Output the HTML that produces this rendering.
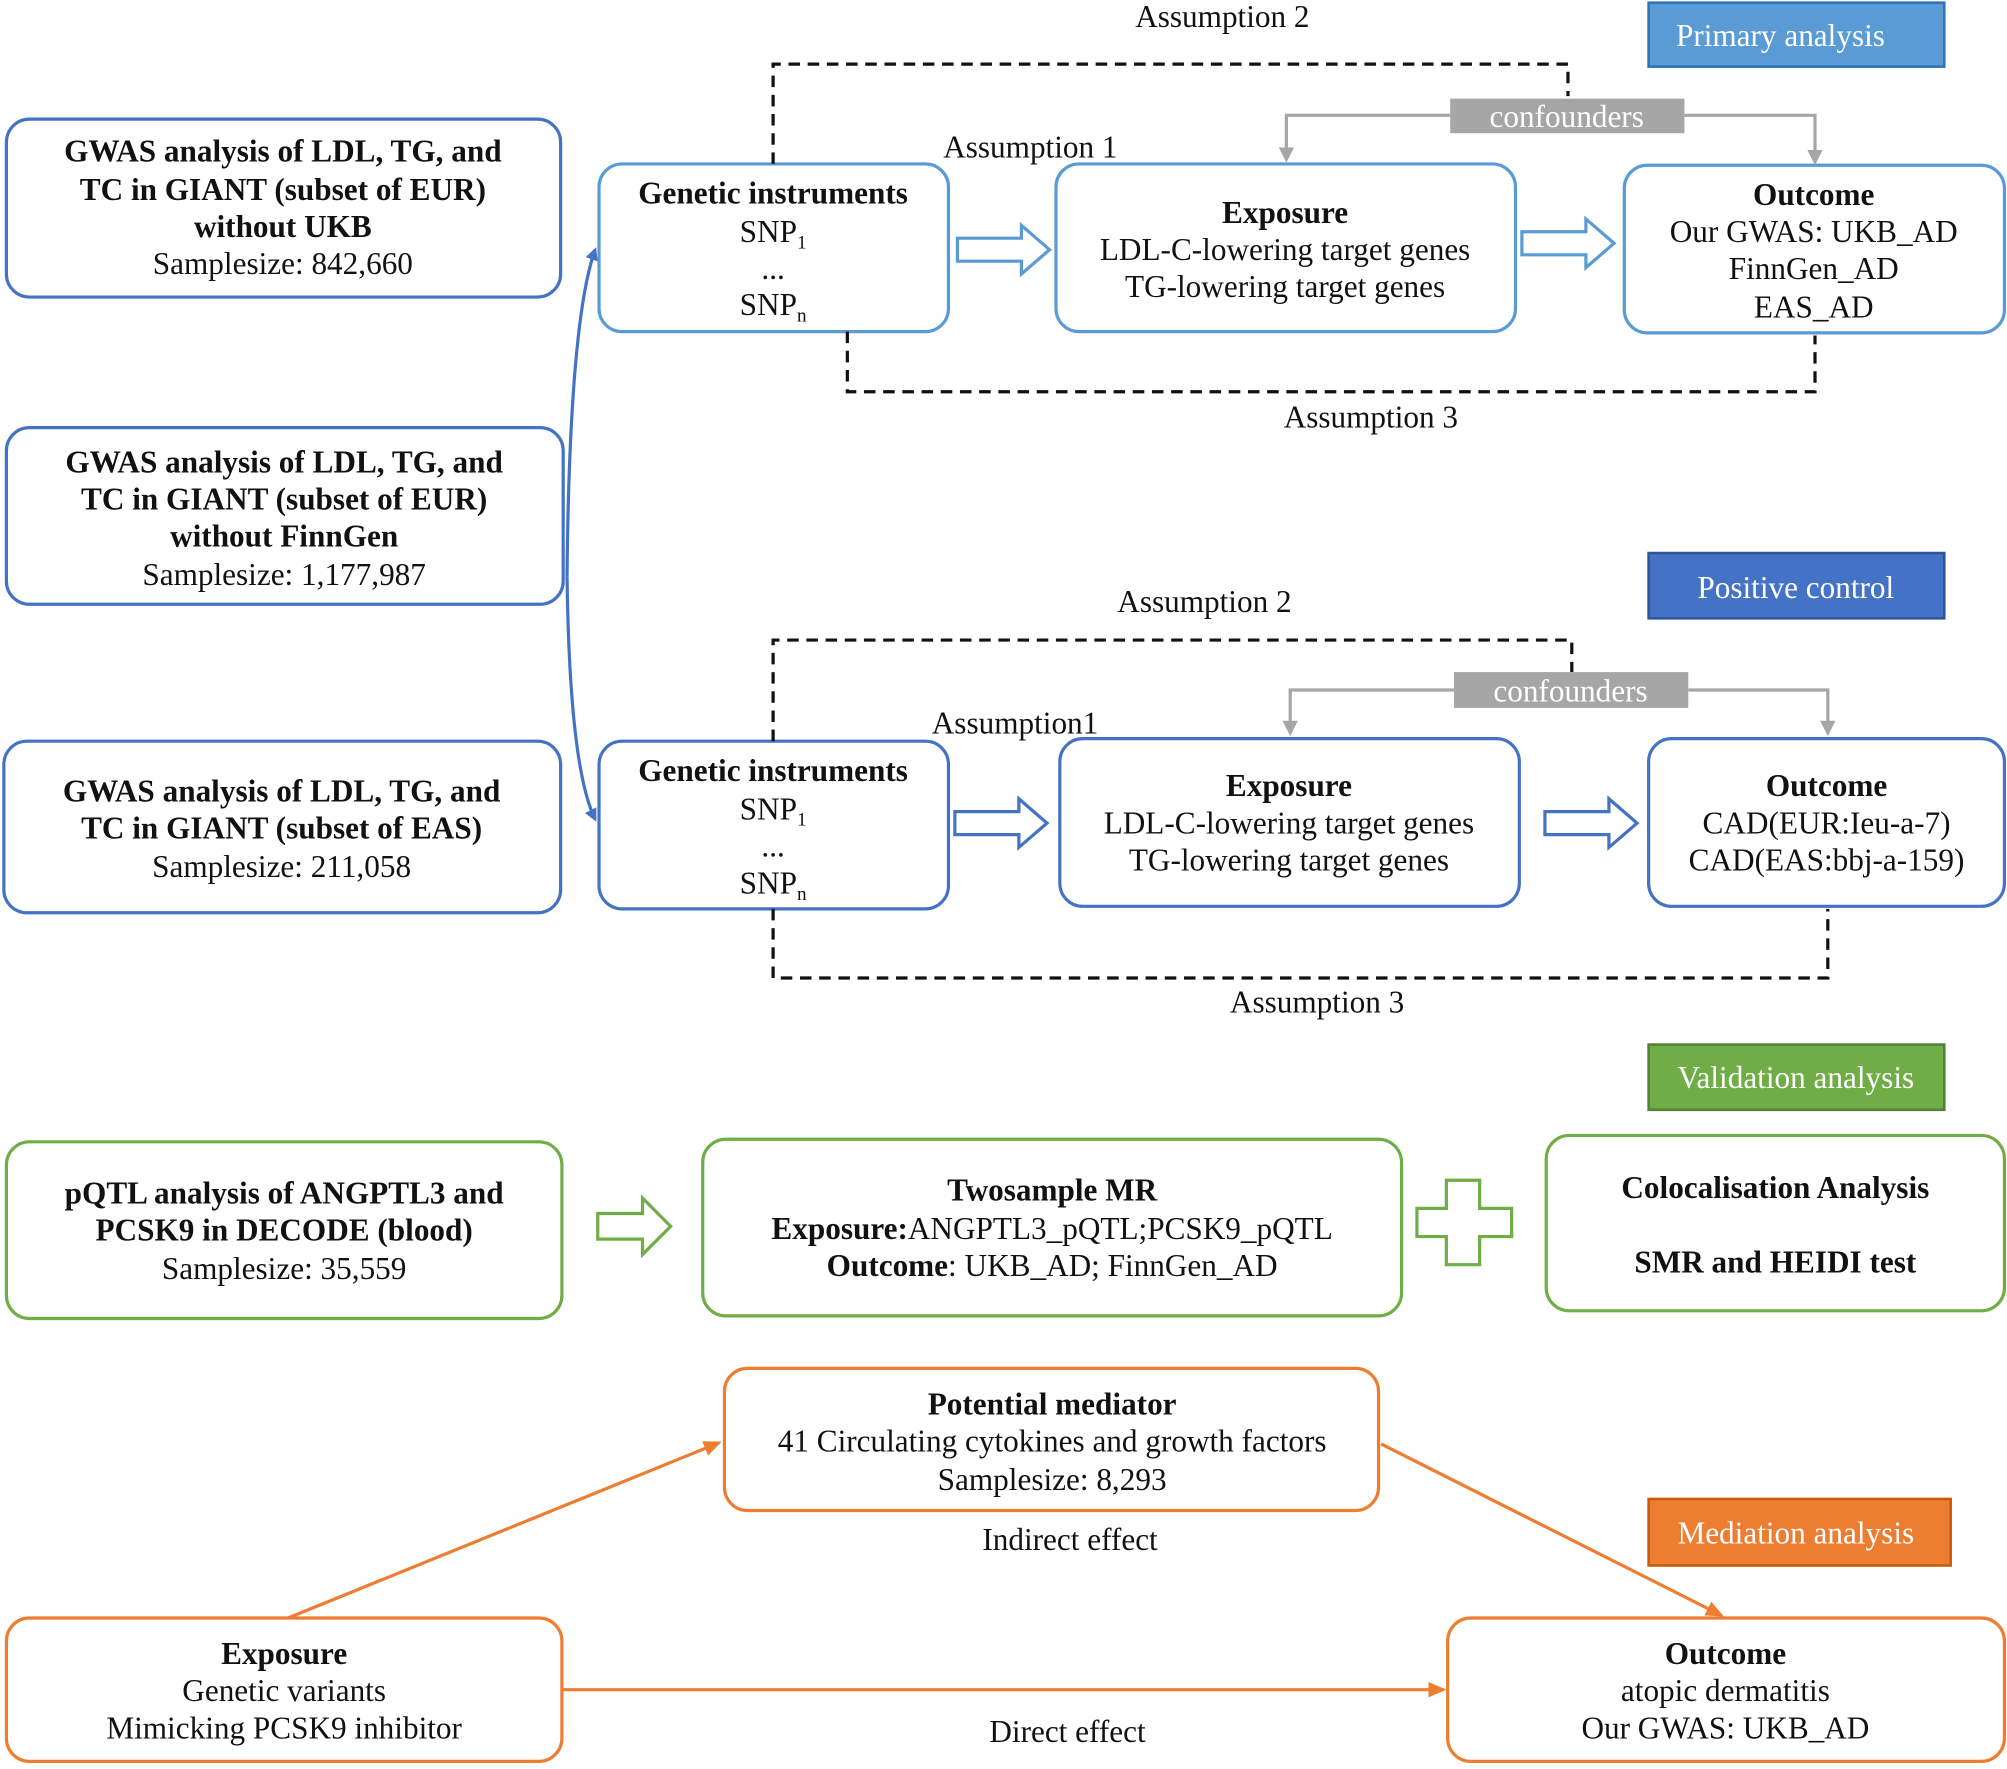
<!DOCTYPE html>
<html><head><meta charset="utf-8"><style>
html,body{margin:0;padding:0;background:#fff;}
svg text{font-family:"Liberation Serif",serif;font-size:24.4px;fill:#111;}
.b{font-weight:bold;}
.w{fill:#fff;}
</style></head><body>
<svg width="2007" height="1764" viewBox="0 0 1568 1378" xmlns="http://www.w3.org/2000/svg">
<defs>
<marker id="ab" markerWidth="10" markerHeight="10" refX="8" refY="5" orient="auto" markerUnits="userSpaceOnUse"><path d="M0,0 L10,5 L0,10 z" fill="#4472C4"/></marker>
<marker id="ag" markerWidth="12" markerHeight="14" refX="10" refY="6" orient="auto" markerUnits="userSpaceOnUse"><path d="M0,0 L12,6 L0,12 z" fill="#A6A6A6"/></marker>
<marker id="ao" markerWidth="14" markerHeight="12" refX="12" refY="6" orient="auto" markerUnits="userSpaceOnUse"><path d="M0,0 L14,6 L0,12 z" fill="#ED7D31"/></marker>
</defs>
<g text-anchor="middle">
<g fill="none" stroke="#4472C4" stroke-width="2.5">
<rect x="5" y="93" width="433" height="139" rx="18"/>
<rect x="5" y="334" width="435" height="138" rx="18"/>
<rect x="3" y="579" width="435" height="134" rx="18"/>
<path d="M443,450 Q445,250 465,195" marker-end="url(#ab)"/>
<path d="M443,450 Q445,600 465,640" marker-end="url(#ab)"/>
</g>
<text x="221" y="126" class="b">GWAS analysis of LDL, TG, and</text>
<text x="221" y="156" class="b">TC in GIANT (subset of EUR)</text>
<text x="221" y="185" class="b">without UKB</text>
<text x="221" y="214">Samplesize: 842,660</text>
<text x="222" y="369" class="b">GWAS analysis of LDL, TG, and</text>
<text x="222" y="398" class="b">TC in GIANT (subset of EUR)</text>
<text x="222" y="427" class="b">without FinnGen</text>
<text x="222" y="457">Samplesize: 1,177,987</text>
<text x="220" y="626" class="b">GWAS analysis of LDL, TG, and</text>
<text x="220" y="655" class="b">TC in GIANT (subset of EAS)</text>
<text x="220" y="685">Samplesize: 211,058</text>

<g fill="none" stroke-width="2.5" stroke="#5B9BD5">
<rect x="468" y="128" width="273" height="131" rx="18"/>
<rect x="825" y="128" width="359" height="131" rx="18"/>
<rect x="1269" y="129" width="297" height="131" rx="18"/>
<path d="M748,186 h50 v-10 l22,19 l-22,19 v-10 h-50 z"/>
<path d="M1189,181 h50 v-10 l22,19 l-22,19 v-10 h-50 z"/>
</g>
<g fill="none" stroke="#111" stroke-width="2.5" stroke-dasharray="9,6">
<path d="M604,128 V50 H1225 V75"/>
<path d="M662,259 V306 H1418 V262"/>
</g>
<g fill="none" stroke="#A6A6A6" stroke-width="2.5">
<path d="M1133,90 H1005 V125" marker-end="url(#ag)"/>
<path d="M1316,90 H1418 V127" marker-end="url(#ag)"/>
</g>
<rect x="1133" y="77" width="183" height="27" fill="#A6A6A6"/>
<text x="1224" y="99" class="w">confounders</text>
<rect x="1288" y="2" width="231" height="50" fill="#5B9BD5" stroke="#2E75B6" stroke-width="2"/>
<text x="1391" y="36" class="w">Primary analysis</text>
<text x="955" y="21">Assumption 2</text>
<text x="805" y="123">Assumption 1</text>
<text x="1071" y="334">Assumption 3</text>
<text x="604" y="159" class="b">Genetic instruments</text>
<text x="604" y="189">SNP<tspan font-size="15" dy="5">1</tspan></text>
<text x="604" y="218">...</text>
<text x="604" y="246">SNP<tspan font-size="15" dy="5">n</tspan></text>
<text x="1004" y="174" class="b">Exposure</text>
<text x="1004" y="203">LDL-C-lowering target genes</text>
<text x="1004" y="232">TG-lowering target genes</text>
<text x="1417" y="160" class="b">Outcome</text>
<text x="1417" y="189">Our GWAS: UKB_AD</text>
<text x="1417" y="218">FinnGen_AD</text>
<text x="1417" y="248">EAS_AD</text>

<g fill="none" stroke-width="2.5" stroke="#4472C4">
<rect x="468" y="579" width="273" height="131" rx="18"/>
<rect x="828" y="577" width="359" height="131" rx="18"/>
<rect x="1288" y="577" width="278" height="131" rx="18"/>
<path d="M746,634 h50 v-10 l22,19 l-22,19 v-10 h-50 z"/>
<path d="M1207,634 h50 v-10 l22,19 l-22,19 v-10 h-50 z"/>
</g>
<g fill="none" stroke="#111" stroke-width="2.5" stroke-dasharray="9,6">
<path d="M604,579 V500 H1228 V525"/>
<path d="M604,710 V764 H1428 V710"/>
</g>
<g fill="none" stroke="#A6A6A6" stroke-width="2.5">
<path d="M1136,539 H1008 V573" marker-end="url(#ag)"/>
<path d="M1319,539 H1428 V573" marker-end="url(#ag)"/>
</g>
<rect x="1136" y="525" width="183" height="28" fill="#A6A6A6"/>
<text x="1227" y="548" class="w">confounders</text>
<rect x="1288" y="432" width="231" height="51" fill="#4472C4" stroke="#2F5597" stroke-width="2"/>
<text x="1403" y="467" class="w">Positive control</text>
<text x="941" y="478">Assumption 2</text>
<text x="793" y="573">Assumption1</text>
<text x="1029" y="791">Assumption 3</text>
<text x="604" y="610" class="b">Genetic instruments</text>
<text x="604" y="640">SNP<tspan font-size="15" dy="5">1</tspan></text>
<text x="604" y="669">...</text>
<text x="604" y="698">SNP<tspan font-size="15" dy="5">n</tspan></text>
<text x="1007" y="622" class="b">Exposure</text>
<text x="1007" y="651">LDL-C-lowering target genes</text>
<text x="1007" y="680">TG-lowering target genes</text>
<text x="1427" y="622" class="b">Outcome</text>
<text x="1427" y="651">CAD(EUR:Ieu-a-7)</text>
<text x="1427" y="680">CAD(EAS:bbj-a-159)</text>

<g fill="none" stroke-width="2.5" stroke="#70AD47">
<rect x="5" y="892" width="434" height="138" rx="18"/>
<rect x="549" y="890" width="546" height="138" rx="18"/>
<rect x="1208" y="887" width="358" height="137" rx="18"/>
<path d="M467,948 h35 v-12 l22,22 l-22,22 v-12 h-35 z"/>
<path d="M1130,922 h26 v22 h25 v22 h-25 v22 h-26 v-22 h-23 v-22 h23 z"/>
</g>
<rect x="1288" y="816" width="231" height="51" fill="#70AD47" stroke="#548235" stroke-width="2"/>
<text x="1403" y="850" class="w">Validation analysis</text>
<text x="222" y="940" class="b">pQTL analysis of ANGPTL3 and</text>
<text x="222" y="969" class="b">PCSK9 in DECODE (blood)</text>
<text x="222" y="999">Samplesize: 35,559</text>
<text x="822" y="938" class="b">Twosample MR</text>
<text x="822" y="968"><tspan class="b">Exposure:</tspan>ANGPTL3_pQTL;PCSK9_pQTL</text>
<text x="822" y="997"><tspan class="b">Outcome</tspan>: UKB_AD; FinnGen_AD</text>
<text x="1387" y="936" class="b">Colocalisation Analysis</text>
<text x="1387" y="994" class="b">SMR and HEIDI test</text>

<g fill="none" stroke-width="2.5" stroke="#ED7D31">
<rect x="566" y="1069" width="511" height="111" rx="18"/>
<rect x="5" y="1264" width="434" height="112" rx="18"/>
<rect x="1131" y="1264" width="435" height="112" rx="18"/>
<path d="M225,1264 L562,1127" marker-end="url(#ao)"/>
<path d="M1079,1128 L1345,1262" marker-end="url(#ao)"/>
<path d="M440,1320 L1128,1320" marker-end="url(#ao)"/>
</g>
<rect x="1288" y="1171" width="236" height="52" fill="#ED7D31" stroke="#C55A11" stroke-width="2"/>
<text x="1403" y="1206" class="w">Mediation analysis</text>
<text x="822" y="1105" class="b">Potential mediator</text>
<text x="822" y="1134">41 Circulating cytokines and growth factors</text>
<text x="822" y="1164">Samplesize: 8,293</text>
<text x="836" y="1211">Indirect effect</text>
<text x="834" y="1361">Direct effect</text>
<text x="222" y="1300" class="b">Exposure</text>
<text x="222" y="1329">Genetic variants</text>
<text x="222" y="1358">Mimicking PCSK9 inhibitor</text>
<text x="1348" y="1300" class="b">Outcome</text>
<text x="1348" y="1329">atopic dermatitis</text>
<text x="1348" y="1358">Our GWAS: UKB_AD</text>
</g>
</svg>
</body></html>
